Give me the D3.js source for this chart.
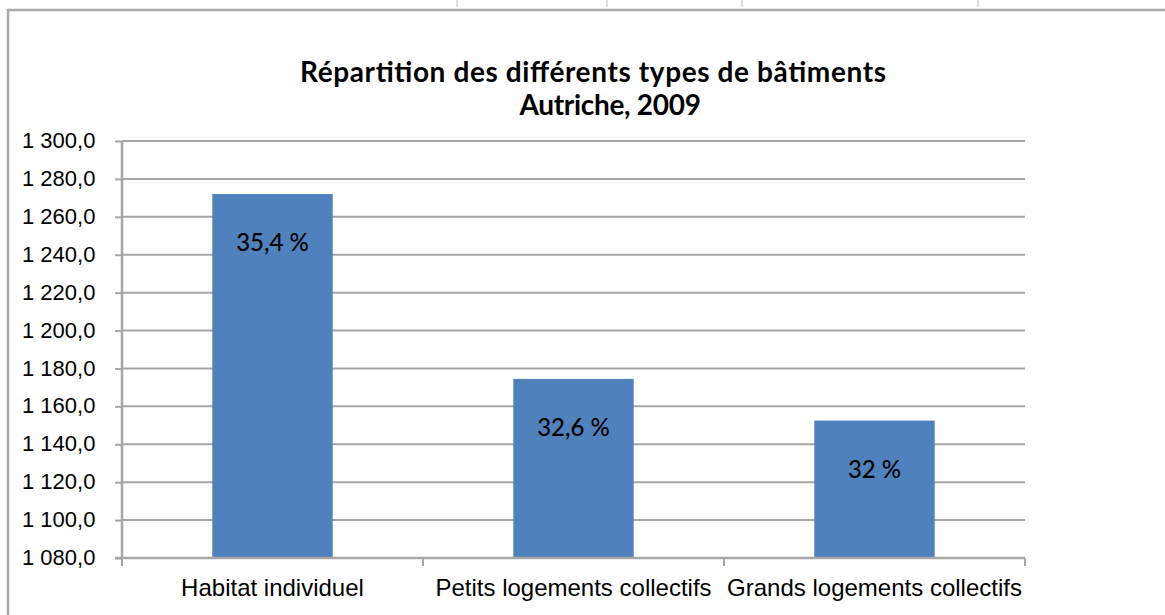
<!DOCTYPE html>
<html><head><meta charset="utf-8">
<script src="https://cdn.jsdelivr.net/npm/d3@7"></script>
<style>
html,body{margin:0;padding:0;background:#fff;}
svg{display:block;font-family:Lato,"Open Sans",sans-serif;}
</style></head>
<body>
<svg id="chart" width="1165" height="615"></svg>
<script>
const titleLines = ["Répartition des différents types de bâtiments", "Autriche, 2009"];
const categories = ["Habitat individuel", "Petits logements collectifs", "Grands logements collectifs"];
const values = [1272, 1174.5, 1152.5];
const shareLabels = ["35,4 %", "32,6 %", "32 %"];
const yTicks = [1080, 1100, 1120, 1140, 1160, 1180, 1200, 1220, 1240, 1260, 1280, 1300];

const svg = d3.select("#chart");
const plot = {left: 122, right: 1025, top: 141, bottom: 558};

// outer chart frame
svg.append("rect").attr("x", 8).attr("y", 10).attr("width", 1200).attr("height", 700)
  .attr("fill", "#fff").attr("stroke", "#a6a6a6").attr("stroke-width", 2.5);
// spreadsheet cell border fragments above the frame
[457, 607, 742, 978].forEach(x => svg.append("line").attr("x1", x).attr("x2", x)
  .attr("y1", 0).attr("y2", 7).attr("stroke", "#d0d0d0").attr("stroke-width", 1.5));

const x = d3.scaleBand().domain(categories).range([plot.left, plot.right]).paddingInner(0.6).paddingOuter(0.3);
const xOuter = d3.scaleBand().domain(categories).range([plot.left, plot.right]);
const y = d3.scaleLinear().domain([1080, 1300]).range([plot.bottom, plot.top]);

const loc = d3.formatLocale({decimal: ",", thousands: "\u00a0", grouping: [3], currency: ["", " €"]});
const fmt = loc.format(",.1f");

// gridlines
svg.append("g").selectAll("line").data(yTicks.filter(t => t !== 1080)).join("line")
  .attr("x1", plot.left).attr("x2", plot.right)
  .attr("y1", d => y(d)).attr("y2", d => y(d))
  .attr("stroke", "#a6a6a6").attr("stroke-width", 2);

// y axis
const yAxis = svg.append("g").attr("transform", `translate(${plot.left},0)`)
  .call(d3.axisLeft(y).tickValues(yTicks).tickFormat(fmt).tickSize(7).tickPadding(25));
yAxis.select(".domain").attr("stroke", "#a6a6a6").attr("stroke-width", 2.5).attr("d", `M0,${plot.top}V${plot.bottom + 0}`);
yAxis.selectAll(".tick line").attr("stroke", "#a6a6a6").attr("stroke-width", 2);
yAxis.selectAll(".tick text").attr("fill", "#000").attr("font-size", 22).attr("text-anchor", "start")
  .attr("x", 22 - plot.left).attr("dy", "0.3em");

// bars
svg.append("g").selectAll("rect").data(values).join("rect")
  .attr("x", (d, i) => x(categories[i])).attr("width", x.bandwidth())
  .attr("y", d => y(d)).attr("height", d => y(1080) - y(d))
  .attr("fill", "#4f81bd");

// x axis
const xAxis = svg.append("g").attr("transform", `translate(0,${plot.bottom})`)
  .call(d3.axisBottom(xOuter).tickSize(0).tickPadding(21));
xAxis.select(".domain").remove();
svg.append("line").attr("x1", plot.left - 7).attr("x2", plot.right)
  .attr("y1", plot.bottom).attr("y2", plot.bottom).attr("stroke", "#a6a6a6").attr("stroke-width", 2.5);
const edges = categories.map(c => xOuter(c)).concat([xOuter(categories[2]) + xOuter.bandwidth()]);
svg.append("g").selectAll("line").data(edges).join("line")
  .attr("x1", d => d).attr("x2", d => d).attr("y1", plot.bottom).attr("y2", plot.bottom + 8)
  .attr("stroke", "#a6a6a6").attr("stroke-width", 2);
xAxis.selectAll(".tick text").attr("fill", "#000").attr("font-size", 24);

// value labels
svg.append("g").selectAll("text").data(values).join("text")
  .attr("x", (d, i) => x(categories[i]) + x.bandwidth() / 2)
  .attr("y", d => y(d) + 57)
  .attr("text-anchor", "middle").attr("font-size", 24).attr("font-weight", 500).attr("fill", "#000")
  .text((d, i) => shareLabels[i]);

// title
const title = svg.append("g").attr("font-size", 28).attr("font-weight", "bold").attr("fill", "#000")
  .attr("text-anchor", "middle");
title.append("text").attr("x", 593).attr("y", 82).attr("textLength", 586).attr("lengthAdjust", "spacing").text(titleLines[0]);
title.append("text").attr("x", 610).attr("y", 115).attr("letter-spacing", -0.3).text(titleLines[1]);
</script>
</body></html>
